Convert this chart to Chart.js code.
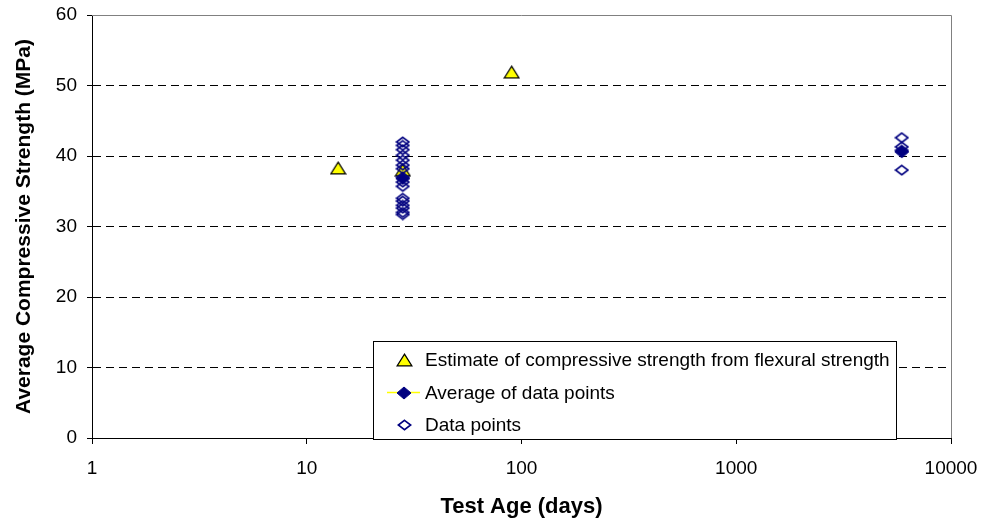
<!DOCTYPE html>
<html>
<head>
<meta charset="utf-8">
<script src="https://cdn.jsdelivr.net/npm/chart.js@4.4.1/dist/chart.umd.min.js"></script>
<style>
  html, body { margin: 0; padding: 0; background: #fff; }
  #wrap { width: 982px; height: 523px; }
</style>
</head>
<body>
<div id="wrap"><canvas id="dataChart" width="982" height="523"></canvas></div>
<script>
// Estimate of compressive strength from flexural strength
const estAge = [14, 28, 90];
const estStrength = [38.3, 38.0, 51.9];

// Average of data points
const avgAge = [28, 5900];
const avgStrength = [36.8, 40.6];

// Individual data points
const pointAge = [28, 28, 28, 28, 28, 28, 28, 28, 28, 28, 28, 28, 28, 28, 28, 28,
                  5900, 5900, 5900, 5900];
const pointStrength = [42.0, 41.5, 40.9, 40.1, 39.4, 38.7, 38.2, 37.0, 36.3, 35.7,
                       34.0, 33.6, 33.0, 32.6, 32.0, 31.7,
                       42.6, 41.3, 40.8, 38.0];

const xTicks = [1, 10, 100, 1000, 10000];
const yTicks = [0, 10, 20, 30, 40, 50, 60];

const legendLabels = [
  'Estimate of compressive strength from flexural strength',
  'Average of data points',
  'Data points'
];

const toXY = (xs, ys) => xs.map((x, i) => ({ x: x, y: ys[i] }));

const FONT = 'Liberation Sans, Arial, sans-serif';
const NAVY = '#000080';

// the markers in the original are a bit wider than tall, so draw them as small images
function makeMarker(w, h, kind, fill, stroke, lw) {
  const c = document.createElement('canvas');
  c.width = w;
  c.height = h;
  const g = c.getContext('2d');
  const p = lw / 2 + 0.5;
  g.beginPath();
  if (kind === 'triangle') {
    g.moveTo(w / 2, p);
    g.lineTo(w - p, h - p);
    g.lineTo(p, h - p);
  } else {
    g.moveTo(w / 2, p);
    g.lineTo(w - p, h / 2);
    g.lineTo(w / 2, h - p);
    g.lineTo(p, h / 2);
  }
  g.closePath();
  if (fill) { g.fillStyle = fill; g.fill(); }
  g.strokeStyle = stroke;
  g.lineWidth = lw;
  g.stroke();
  return c;
}

const triMarker = makeMarker(17, 14, 'triangle', '#ffff00', '#000', 1.2);
const avgMarker = makeMarker(16, 14, 'diamond', NAVY, NAVY, 1);
const openMarker = makeMarker(15, 12, 'diamond', null, NAVY, 1.6);

// keep the plot area where the original has it, whatever the label overhang
function noOverhang(scale) {
  scale.paddingTop = 0;
  scale.paddingBottom = 0;
  scale.paddingLeft = 0;
  scale.paddingRight = 0;
}

// draws the boxed legend inside the plot area, like the original
const boxLegend = {
  id: 'boxLegend',
  afterDraw(chart) {
    const ctx = chart.ctx;
    const left = 373, top = 341, width = 523, height = 98;
    ctx.save();
    ctx.fillStyle = '#fff';
    ctx.fillRect(left, top, width, height);
    ctx.strokeStyle = '#000';
    ctx.lineWidth = 1;
    ctx.strokeRect(left + 0.5, top + 0.5, width, height);

    ctx.font = '19px ' + FONT;
    ctx.textBaseline = 'middle';
    const mx = 404;
    chart.data.datasets.forEach((ds, i) => {
      const y = top + 19 + i * 32.5;
      if (ds.legendLine) {
        ctx.strokeStyle = ds.legendLine;
        ctx.lineWidth = 1.5;
        ctx.beginPath();
        ctx.moveTo(mx - 17, y);
        ctx.lineTo(mx + 16, y);
        ctx.stroke();
      }
      const img = ds.pointStyle;
      ctx.drawImage(img, Math.round(mx - img.width / 2), Math.round(y - img.height / 2));
      ctx.fillStyle = '#000';
      ctx.fillText(legendLabels[i], 425, y + 1);
    });
    ctx.restore();
  }
};

// plot frame on top and right side
const frame = {
  id: 'frame',
  beforeDatasetsDraw(chart) {
    const a = chart.chartArea;
    const ctx = chart.ctx;
    ctx.save();
    ctx.strokeStyle = '#808080';
    ctx.lineWidth = 1;
    ctx.beginPath();
    ctx.moveTo(a.left, a.top + 0.5);
    ctx.lineTo(a.right + 0.5, a.top + 0.5);
    ctx.lineTo(a.right + 0.5, a.bottom);
    ctx.stroke();
    ctx.restore();
  }
};

const ctx = document.getElementById('dataChart').getContext('2d');
const chart = new Chart(ctx, {
  type: 'scatter',
  data: {
    datasets: [
      {
        label: legendLabels[0],
        data: toXY(estAge, estStrength),
        pointStyle: triMarker,
        pointRadius: 8,
        order: 3
      },
      {
        label: legendLabels[1],
        data: toXY(avgAge, avgStrength),
        pointStyle: avgMarker,
        pointRadius: 7,
        legendLine: '#ffff00',
        order: 1
      },
      {
        label: legendLabels[2],
        data: toXY(pointAge, pointStrength),
        pointStyle: openMarker,
        pointRadius: 6,
        order: 2
      }
    ]
  },
  options: {
    responsive: false,
    animation: false,
    layout: { padding: { top: 15, right: 31, left: 0, bottom: 0 } },
    plugins: {
      legend: { display: false },
      tooltip: { enabled: false }
    },
    scales: {
      x: {
        type: 'logarithmic',
        min: 1,
        max: 10000,
        afterBuildTicks: scale => { scale.ticks = xTicks.map(v => ({ value: v })); },
        afterFit: scale => { scale.height = 85; noOverhang(scale); },
        border: { color: '#000', width: 1 },
        grid: {
          drawOnChartArea: false,
          drawTicks: true,
          tickLength: 6,
          color: '#000'
        },
        ticks: {
          color: '#000',
          font: { family: FONT, size: 19 },
          padding: 13,
          maxRotation: 0,
          callback: v => String(v)
        },
        title: {
          display: true,
          text: 'Test Age (days)',
          color: '#000',
          font: { family: FONT, size: 22, weight: 'bold' },
          padding: { bottom: 3 }
        }
      },
      y: {
        min: 0,
        max: 60,
        afterBuildTicks: scale => { scale.ticks = yTicks.map(v => ({ value: v })); },
        afterFit: scale => { scale.width = 92; noOverhang(scale); },
        border: { color: '#000', width: 1, dash: [8, 5] },
        grid: {
          color: ctx => (ctx.tick && (ctx.tick.value === 0 || ctx.tick.value === 60)) ? 'rgba(0,0,0,0)' : '#000',
          tickColor: '#000',
          tickLength: 5,
          drawTicks: true
        },
        ticks: {
          color: '#000',
          font: { family: FONT, size: 19 },
          padding: 10
        },
        title: {
          display: true,
          text: 'Average Compressive Strength (MPa)',
          color: '#000',
          font: { family: FONT, size: 21, weight: 'bold' },
          padding: { top: 12 }
        }
      }
    }
  },
  plugins: [frame, boxLegend]
});
</script>
</body>
</html>
